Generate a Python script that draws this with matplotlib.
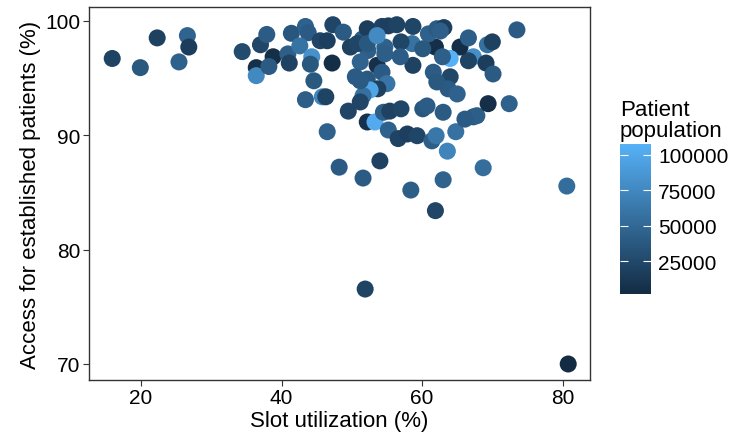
import numpy as np
import matplotlib
matplotlib.use("Agg")
import matplotlib.pyplot as plt
from matplotlib.colors import LinearSegmentedColormap, Normalize

plt.rcParams['font.family'] = ['Liberation Sans', 'DejaVu Sans']

# Data
slot = [15.9, 19.9, 22.3, 25.4, 26.6, 26.8, 34.4, 36.4, 36.4, 37.0,
        37.9, 38.8, 38.2, 40.9, 41.1, 41.4, 43.4, 43.8, 42.6, 44.3,
        44.1, 45.5, 46.5, 47.2, 47.3, 44.6, 43.4, 45.8, 46.3, 46.5,
        48.2, 48.8, 49.8, 49.5, 51.5, 52.2, 52.3, 51.2, 54.3, 55.2,
        56.4, 58.7, 54.7, 53.6, 54.3, 55.0, 52.2, 53.7, 52.6, 51.6,
        51.2, 52.2, 53.3, 54.5, 55.4, 57.0, 55.2, 56.6, 57.9, 59.3,
        60.1, 60.7, 63.0, 61.4, 62.0, 51.6, 54.0, 58.4, 63.0, 63.6,
        64.8, 67.3, 67.8, 69.4, 72.4, 68.7, 80.6, 73.5, 69.3, 70.0,
        67.3, 66.6, 69.1, 70.1, 65.4, 64.0, 66.6, 61.9, 62.9, 61.6,
        64.0, 63.7, 65.0, 62.1, 58.6, 58.7, 57.0, 60.9, 62.1, 63.1,
        50.8, 52.2, 53.6, 56.9, 51.2, 61.9, 51.9, 80.8, 66.1, 62.6,
        60.1, 54.7, 50.5]
access = [96.7, 95.9, 98.5, 96.4, 98.7, 97.7, 97.3, 95.9, 95.2, 97.9,
          98.8, 96.85, 96.0, 97.1, 96.3, 98.9, 99.5, 98.95, 97.8, 96.85,
          96.2, 98.25, 98.25, 96.3, 99.65, 94.75, 93.1, 93.35, 93.35, 90.3,
          87.2, 99.0, 97.7, 92.1, 98.4, 99.3, 97.4, 96.4, 99.5, 99.55,
          99.65, 99.5, 97.7, 96.1, 95.5, 94.5, 94.9, 94.05, 93.95, 93.45,
          92.9, 91.15, 91.15, 92.0, 92.1, 92.3, 90.45, 89.7, 90.1, 89.95,
          92.3, 92.55, 92.0, 89.5, 89.95, 86.25, 87.75, 85.2, 86.1, 88.6,
          90.3, 91.6, 91.7, 92.75, 92.75, 87.15, 85.55, 99.2, 97.9, 98.15,
          96.85, 96.5, 96.3, 95.35, 97.7, 96.7, 98.5, 97.7, 96.85, 95.5,
          95.1, 94.05, 93.6, 94.65, 98.0, 96.1, 98.15, 98.85, 99.3, 99.4,
          98.0, 98.0, 98.7, 96.85, 94.75, 83.4, 76.55, 70.0, 91.4, 99.1,
          97.55, 97.1, 95.1]
population = [21000, 38000, 19000, 44000, 47000, 16000, 27000, 6000, 76000, 24000,
              41000, 5000, 39000, 43000, 20000, 36000, 45000, 40000, 58000, 82000,
              37000, 22000, 18000, 4000, 23000, 38000, 42000, 74000, 21000, 44000,
              40000, 39000, 19000, 22000, 41000, 17000, 43000, 46000, 20000, 18000,
              21000, 23000, 45000, 6000, 40000, 60000, 38000, 19000, 98000, 56000,
              22000, 7000, 102000, 42000, 20000, 24000, 44000, 21000, 18000, 23000,
              37000, 41000, 39000, 43000, 62000, 40000, 20000, 42000, 46000, 72000,
              57000, 38000, 42000, 5000, 44000, 55000, 54000, 40000, 56000, 19000,
              80000, 21000, 17000, 39000, 4000, 107700, 42000, 5000, 43000, 41000,
              24000, 40000, 45000, 38000, 58000, 20000, 23000, 44000, 39000, 18000,
              22000, 37000, 77000, 41000, 39000, 22000, 21000, 1700, 40000, 43000,
              38000, 42000, 40000]
cbar_ticks = [25000, 50000, 75000, 100000]

cmap = LinearSegmentedColormap.from_list("gg", ["#132B43", "#56B1F7"])
norm = Normalize(vmin=min(population), vmax=max(population))

fig = plt.figure(figsize=(7.34, 4.39), dpi=100)
ax = fig.add_axes([0.1213, 0.1321, 0.6825, 0.8497])
sc = ax.scatter(slot, access, c=population, cmap=cmap, norm=norm,
                s=150, linewidths=0)
ax.set_xlim(12.6, 83.9)
ax.set_ylim(68.6, 101.2)
ax.set_xticks([20, 40, 60, 80])
ax.set_yticks([70, 80, 90, 100])
for sp in ax.spines.values():
    sp.set_color("#333333")
    sp.set_linewidth(1.0)
ax.tick_params(labelsize=15, length=4, color="#333333", labelcolor="black",
               pad=2)
ax.set_xlabel("Slot utilization (%)", fontsize=16, labelpad=2)
ax.set_ylabel("Access for established patients (%)", fontsize=16, labelpad=3)

cax = fig.add_axes([0.8447, 0.328, 0.0422, 0.3417])
cb = fig.colorbar(sc, cax=cax, ticks=cbar_ticks)
cb.outline.set_visible(False)
cax.tick_params(direction="in", color="white", length=6, width=0.8,
                left=True, right=True, labelsize=15, pad=5)
cax.text(0.0, 1.02, "Patient\npopulation", transform=cax.transAxes,
         fontsize=16, ha="left", va="bottom", linespacing=1.0)

fig.savefig("out.png", dpi=100)
